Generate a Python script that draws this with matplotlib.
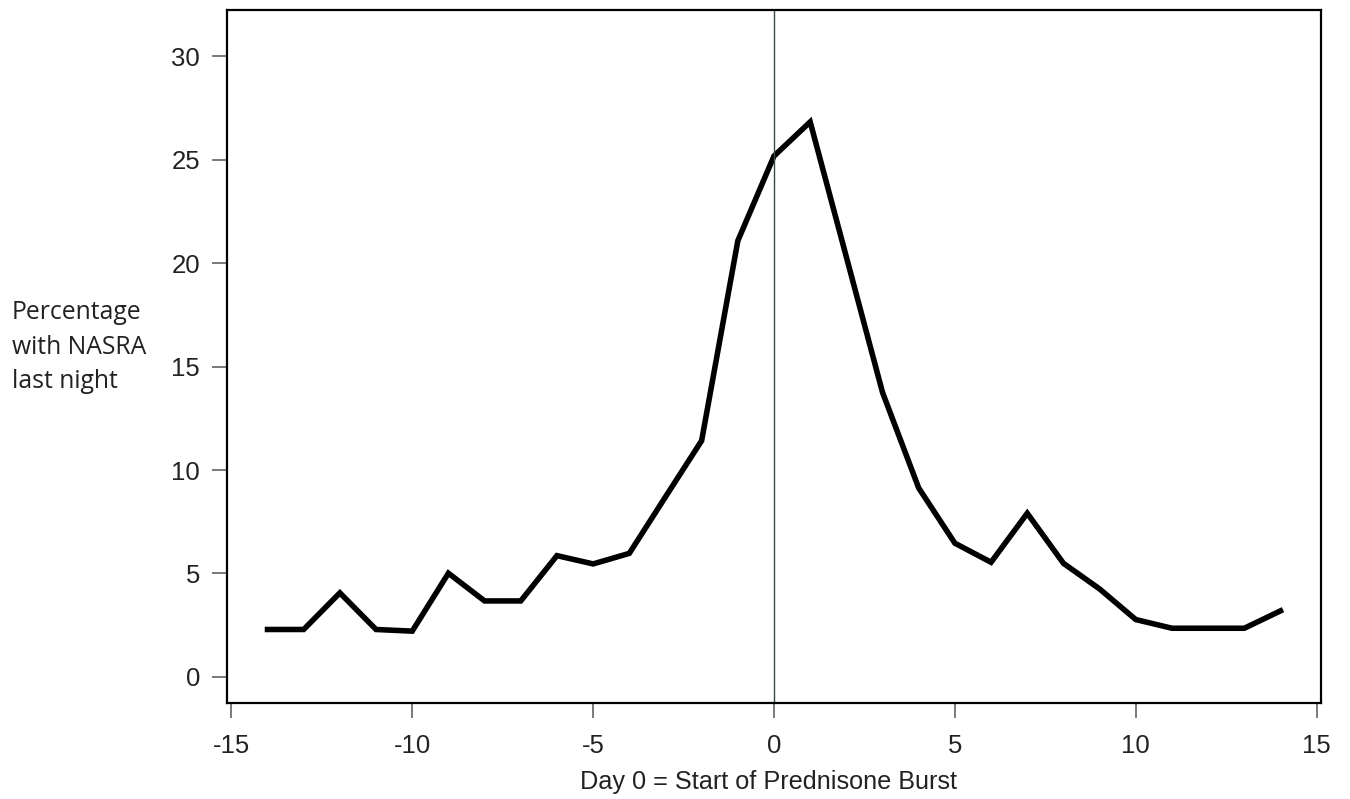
import matplotlib

# backend sin pantalla
matplotlib.use('Agg')

import matplotlib.pyplot as plt

# Dias relativos al inicio del tratamiento
days = list(range(-14, 15))

# Porcentaje con NASRA la noche anterior
pct_nasra = [
    2.29, 2.29, 4.06, 2.29, 2.21, 5.01, 3.67, 3.67, 5.86, 5.46,
    5.97, 8.70, 11.42, 21.08, 25.18, 26.83, 20.30, 13.75, 9.13, 6.46,
    5.54, 7.91, 5.49, 4.25, 2.77, 2.35, 2.35, 2.35, 3.19,
]

x_ticks = [-15, -10, -5, 0, 5, 10, 15]
y_ticks = [0, 5, 10, 15, 20, 25, 30]

x_label = "Day 0 = Start of Prednisone Burst"
y_label = "Percentage\nwith NASRA\nlast night"

fig = plt.figure(figsize=(13.5, 7.99), dpi=100)
ax = fig.add_axes([227 / 1350, 1 - 702.5 / 799, 1094 / 1350, 692.5 / 799])

ax.plot(days, pct_nasra, color="black", linewidth=4.0, solid_joinstyle="miter")
ax.axvline(0, color="#3a4a4a", linewidth=1.0)

ax.set_xlim(-15.12, 15.12)
ax.set_ylim(-1.24, 32.24)
ax.set_xticks(x_ticks)
ax.set_yticks(y_ticks)
ax.set_xticklabels([str(t) for t in x_ticks], family="Liberation Sans", fontsize=18.5)
ax.set_yticklabels([str(t) for t in y_ticks], family="Liberation Sans", fontsize=18.5)
ax.tick_params(axis="both", length=10.5, width=1.1, color="#555555", labelcolor="#222222")
ax.tick_params(axis="x", pad=12)
ax.tick_params(axis="y", pad=9)

for spine in ax.spines.values():
    spine.set_linewidth(1.6)
    spine.set_color("black")

fig.text(769 / 1350, 1 - 782 / 799, x_label, ha="center", va="center",
         family="Liberation Sans", fontsize=18.2, color="#222222")
fig.text(12 / 1350, 1 - 347 / 799, y_label, ha="left", va="center",
         family="Open Sans", fontsize=17.8, color="#222222", linespacing=1.5)

plt.savefig("out.png", dpi=100)
plt.close()
